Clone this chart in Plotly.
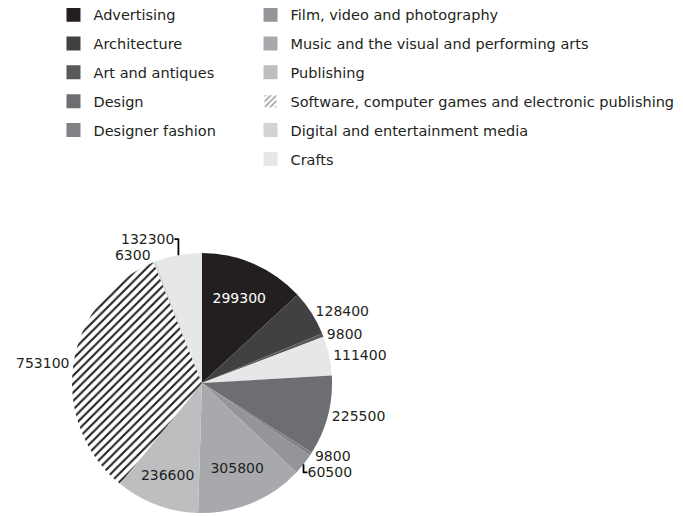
import plotly.graph_objects as go

# ---- data ----
slice_labels = [
    "Advertising", "Architecture", "Art and antiques", "Crafts (a)", "Design",
    "Designer fashion", "Film, video and photography",
    "Music and the visual and performing arts", "Publishing",
    "Software, computer games and electronic publishing",
    "Digital and entertainment media", "Crafts",
]
slice_values = [299300, 128400, 9800, 111400, 225500, 9800, 60500,
                305800, 236600, 753100, 6300, 132300]
slice_colors = ["#231f20", "#414042", "#58595b", "#e6e7e8", "#6d6e71",
                "#808285", "#939598", "#a7a9ac", "#bcbec0", "#ffffff",
                "#d1d3d4", "#e6e7e8"]
slice_patterns = ["", "", "", "", "", "", "", "", "", "/", "", ""]
slice_textpos = ["inside", "outside", "outside", "outside", "outside",
                 "outside", "outside", "inside", "inside", "outside",
                 "outside", "outside"]
slice_textcolor = ["#ffffff"] + ["#231f20"] * 11

legend1_labels = ["Advertising", "Architecture", "Art and antiques", "Design",
                  "Designer fashion"]
legend1_colors = ["#231f20", "#414042", "#58595b", "#6d6e71", "#808285"]
legend2_labels = ["Film, video and photography",
                  "Music and the visual and performing arts", "Publishing",
                  "Software, computer games and electronic publishing",
                  "Digital and entertainment media", "Crafts"]
legend2_colors = ["#939598", "#a7a9ac", "#bcbec0", "#ffffff", "#d1d3d4",
                  "#e6e7e8"]
legend2_patterns = ["", "", "", "/", "", ""]

FONT = "DejaVu Sans"
TXT = "#231f20"

fig = go.Figure()

fig.add_trace(go.Pie(
    labels=slice_labels,
    values=slice_values,
    text=[str(v) for v in slice_values],
    textinfo="text",
    textposition=slice_textpos,
    textfont=dict(family=FONT, size=14, color=slice_textcolor),
    insidetextorientation="horizontal",
    sort=False,
    direction="clockwise",
    rotation=0,
    marker=dict(colors=slice_colors, line=dict(width=0),
                pattern=dict(shape=slice_patterns, fgcolor="#231f20",
                             bgcolor="#ffffff", size=6, solidity=0.35)),
    domain=dict(x=[0.0937, 0.4744], y=[0.0213, 0.5252]),
    showlegend=False,
    hoverinfo="skip",
))


def legend_entry(lab, col, pat, leg, grp):
    if pat:
        return go.Bar(x=[None], y=[None], name=lab,
                      marker=dict(color=col, line=dict(width=0),
                                  pattern=dict(shape=pat, fgcolor="#231f20",
                                               size=5, solidity=0.35)),
                      legend=leg, legendgroup=grp, xaxis="x", yaxis="y")
    return go.Scatter(x=[None], y=[None], name=lab, mode="markers",
                      marker=dict(symbol="square", size=14, color=col,
                                  line=dict(width=0)),
                      legend=leg, legendgroup=grp, xaxis="x", yaxis="y")


for i, (lab, col) in enumerate(zip(legend1_labels, legend1_colors)):
    fig.add_trace(legend_entry(lab, col, "", "legend", "a%d" % i))
for i, (lab, col, pat) in enumerate(zip(legend2_labels, legend2_colors, legend2_patterns)):
    fig.add_trace(legend_entry(lab, col, pat, "legend2", "b%d" % i))

legend_common = dict(font=dict(family=FONT, size=14.5, color=TXT), yanchor="top",
                     xanchor="left", traceorder="grouped", tracegroupgap=7,
                     itemsizing="trace",
                     bgcolor="rgba(0,0,0,0)", itemclick=False, itemdoubleclick=False)

fig.update_layout(
    width=683, height=516,
    margin=dict(l=0, r=0, t=0, b=0, autoexpand=False),
    paper_bgcolor="white", plot_bgcolor="white",
    xaxis=dict(visible=False, domain=[0.99, 1.0]),
    yaxis=dict(visible=False, domain=[0.99, 1.0]),
    legend=dict(x=0.0666, y=1.018, **legend_common),
    legend2=dict(x=0.3551, y=1.018, **legend_common),
)

fig.write_html("out.html")
